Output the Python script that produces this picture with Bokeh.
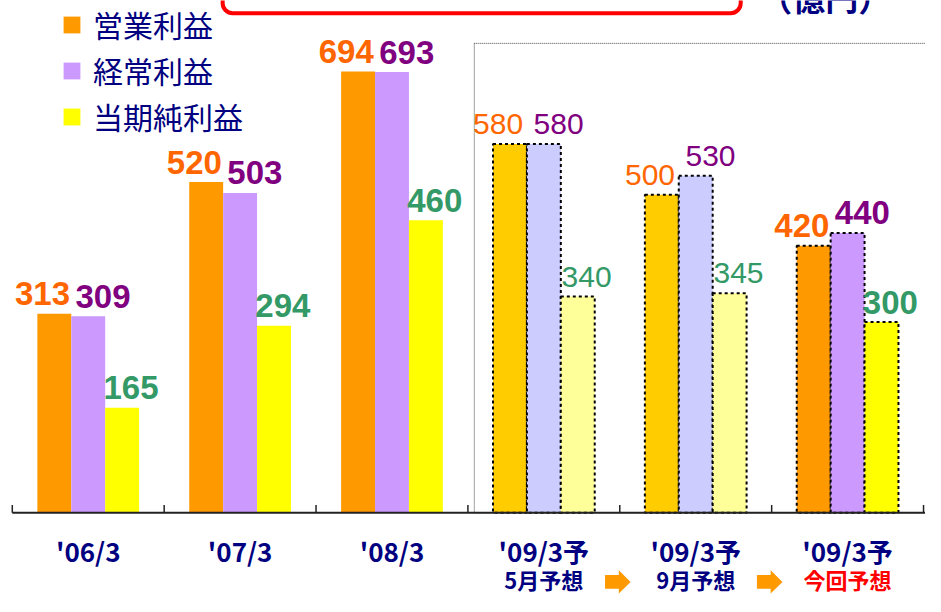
import numpy as np
from bokeh.plotting import figure
from bokeh.models import Range1d, ColumnDataSource, Legend, LegendItem, BoxAnnotation
from bokeh.core.properties import value
from bokeh.embed import file_html
from bokeh.resources import INLINE

# ---------------- data ----------------
categories = ["'06/3", "'07/3", "'08/3", "'09/3予", "'09/3予", "'09/3予"]
sublabels = ["", "", "", "5月予想", "9月予想", "今回予想"]
series_names = ["営業利益", "経常利益", "当期純利益"]
operating = [313, 520, 694, 580, 500, 420]
ordinary = [309, 503, 693, 580, 530, 440]
net_income = [165, 294, 460, 340, 345, 300]
is_forecast = [False, False, False, True, True, True]
is_latest = [False, False, False, False, False, True]
unit_label = "（億円）"

# ---------------- styles ----------------
solid_colors = ["#FF9900", "#CC99FF", "#FFFF00"]
pale_colors = ["#FFCC00", "#CCCCFF", "#FFFF99"]
label_colors = ["#FF6600", "#800080", "#339966"]
NAVY = "#000080"
JP = "Noto Sans CJK JP"
NUM = "Liberation Sans"

W, H = 925, 596
REF_W, REF_H = 941, 612
X0_PX, CAT_PX = 12.0, 154.5
BASE_PX, UNIT_PX = 526.0, 0.653
SX, SY = W / REF_W, H / REF_H


def fx(px):
    return (px - X0_PX) / CAT_PX


def fy(py):
    return (BASE_PX - py) / UNIT_PX


p = figure(width=W, height=H, output_backend="svg", toolbar_location=None,
           x_range=Range1d(fx(0), fx(REF_W)), y_range=Range1d(fy(REF_H), fy(0)),
           min_border=0, min_border_left=0, min_border_right=0,
           min_border_top=0, min_border_bottom=0)
p.xaxis.visible = False
p.yaxis.visible = False
p.grid.visible = False
p.outline_line_color = None
p.background_fill_color = "white"
p.border_fill_color = "white"

n = len(categories)
idx = np.arange(n)
centers = idx + 0.5
bar_w = 34.5 / CAT_PX
offsets = [-bar_w, 0.0, bar_w]
label_dx = [-12 / CAT_PX, 15 / CAT_PX, 9 / CAT_PX]
label_lift = 20.5 / UNIT_PX

# dotted forecast frame
p.add_layout(BoxAnnotation(left=fx(482), right=n + 0.5, top=fy(44), bottom=0,
                           fill_color=None, fill_alpha=0, line_color="#444444",
                           line_alpha=1, line_dash="1 1", line_width=1,
                           level="underlay"))

# red title box (its upper part lies above the picture)
p.add_layout(BoxAnnotation(left=fx(226), right=fx(753), top=fy(-80), bottom=fy(13),
                           fill_color=None, fill_alpha=0, line_color="#FF0000",
                           line_alpha=1, line_width=4, border_radius=10))

all_series = [operating, ordinary, net_income]
solid_renderers = []
for s, vals in enumerate(all_series):
    xs = centers + offsets[s]
    act = [i for i in range(n) if not is_forecast[i]]
    fc = [i for i in range(n) if is_forecast[i]]
    src_a = ColumnDataSource(dict(x=[xs[i] for i in act], top=[vals[i] for i in act]))
    r = p.vbar(x="x", top="top", bottom=0, width=bar_w, source=src_a,
               fill_color=solid_colors[s], line_color=None)
    solid_renderers.append(r)
    src_f = ColumnDataSource(dict(
        x=[xs[i] for i in fc], top=[vals[i] for i in fc],
        color=[solid_colors[s] if is_latest[i] else pale_colors[s] for i in fc]))
    p.vbar(x="x", top="top", bottom=0, width=bar_w, source=src_f,
           fill_color="color", line_color="black", line_width=2, line_dash="3 3")

    # value labels
    bold_i = [i for i in range(n) if (not is_forecast[i]) or is_latest[i]]
    norm_i = [i for i in range(n) if is_forecast[i] and not is_latest[i]]
    for group, style, size in ((bold_i, "bold", "33px"), (norm_i, "normal", "30px")):
        src = ColumnDataSource(dict(
            x=[xs[i] + label_dx[s] for i in group],
            y=[vals[i] + label_lift for i in group],
            t=[str(vals[i]) for i in group]))
        p.text(x="x", y="y", text="t", source=src, text_align="center",
               text_baseline="middle", text_color=label_colors[s],
               text_font=value(NUM), text_font_style=style, text_font_size=size)

# axis line and ticks
p.segment(x0=[0], y0=[0], x1=[n + 0.3], y1=[0], line_color="#222222", line_width=2)
p.segment(x0=np.arange(n + 1), y0=np.zeros(n + 1), x1=np.arange(n + 1),
          y1=np.full(n + 1, 8 / UNIT_PX), line_color="#222222", line_width=1.5)

# category labels
p.text(x=centers, y=np.full(n, fy(565)), text=categories, text_align="center",
       text_baseline="middle", text_color=NAVY, text_font=value(JP),
       text_font_style="bold", text_font_size="26px")
sub_i = [i for i in range(n) if sublabels[i]]
sub_src = ColumnDataSource(dict(
    x=[centers[i] for i in sub_i], y=[fy(594)] * len(sub_i),
    t=[sublabels[i] for i in sub_i],
    c=["#FF0000" if is_latest[i] else NAVY for i in sub_i]))
p.text(x="x", y="y", text="t", source=sub_src, text_align="center",
       text_baseline="middle", text_color="c", text_font=value(JP),
       text_font_style="bold", text_font_size="22px")

# arrows between successive forecast sub-labels
shape = [(-13, -7), (1, -7), (1, -12), (13, 0), (1, 12), (1, 7), (-13, 7)]
axs, ays = [], []
for i in range(1, n):
    if sublabels[i - 1] and sublabels[i]:
        axs.append([i + (dx - 2) / CAT_PX for dx, dy in shape])
        ays.append([fy(597 + dy) for dx, dy in shape])
p.patches(xs=axs, ys=ays, fill_color="#FF9900", line_color=None)

# unit label (cut off at the top, as in the source)
p.text(x=[fx(772)], y=[fy(-4)], text=[unit_label], text_align="left",
       text_baseline="middle", text_color=NAVY, text_font=value(JP),
       text_font_style="bold", text_font_size="33px")

# legend
item_h = 43.4
leg_spacing = 46.5 * SY - item_h
leg_top = 26.5 * SY - item_h / 2
leg_height = 3 * item_h + 2 * leg_spacing
legend = Legend(items=[LegendItem(label=series_names[s], renderers=[solid_renderers[s]])
                       for s in range(3)],
                location=(round(62 * SX), round(H - leg_top - leg_height)),
                orientation="vertical",
                glyph_width=21, glyph_height=21, label_height=30,
                label_standoff=11, spacing=round(leg_spacing), padding=0, margin=0,
                label_text_font=JP, label_text_font_size="30px",
                label_text_color=NAVY, border_line_color=None,
                background_fill_alpha=0)
p.add_layout(legend)

open("out.html", "w").write(file_html(p, INLINE))
